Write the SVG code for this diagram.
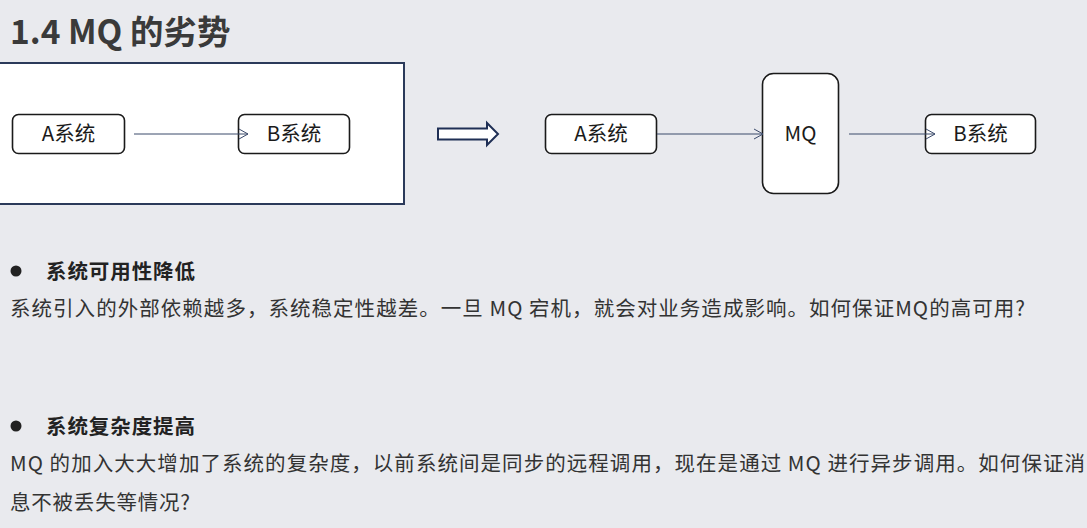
<svg xmlns="http://www.w3.org/2000/svg" width="1087" height="528" viewBox="0 0 1087 528">
<style>
.bg{fill:#e9eaee}
.node{fill:#ffffff;stroke:#1a1a1a;stroke-width:1.6}
.lbl{font-family:"Noto Sans CJK SC","Microsoft YaHei",sans-serif;font-size:20.5px;fill:#1a1a1a;text-anchor:middle}
.conn{stroke:#3b4a6b;stroke-width:1;fill:none;marker-end:url(#arr)}
.body{font-family:"Noto Sans CJK SC","Microsoft YaHei",sans-serif;font-size:20.5px;fill:#333333}
.head{font-family:"Noto Sans CJK SC","Microsoft YaHei",sans-serif;font-size:20.5px;font-weight:bold;fill:#222222}
</style>
<defs>
<marker id="arr" markerWidth="12" markerHeight="12" refX="10" refY="6" orient="auto" markerUnits="userSpaceOnUse">
<path d="M1,1 L10,6 L1,11" fill="none" stroke="#3b4a6b" stroke-width="1"/>
</marker>
</defs>
<rect class="bg" x="0" y="0" width="1087" height="528"/>
<text x="10" y="44" font-family="'Noto Sans CJK SC','Microsoft YaHei',sans-serif" font-size="33.5" font-weight="bold" fill="#3a3a3a">1.4 MQ 的劣势</text>

<g id="frame">
<rect x="-2" y="63" width="406" height="141" fill="#ffffff" stroke="#2b3a5a" stroke-width="2"/>
</g>

<g id="a1">
<rect class="node" x="12.5" y="114.5" width="112" height="39" rx="6"/>
<text class="lbl" x="68.5" y="141">A系统</text>
</g>
<g id="b1">
<rect class="node" x="238.5" y="114.5" width="111" height="39" rx="6"/>
<text class="lbl" x="294" y="141">B系统</text>
</g>

<g id="bigarrow">
<path d="M438,128.5 H487 V123 L498,134 L487,145 V139.5 H438 Z" fill="#ffffff" stroke="#1f2f55" stroke-width="2" stroke-linejoin="miter"/>
</g>

<g id="a2">
<rect class="node" x="545.5" y="114.5" width="111" height="39" rx="6"/>
<text class="lbl" x="601" y="141">A系统</text>
</g>
<g id="mq">
<rect class="node" x="762.5" y="73.5" width="76" height="120" rx="11"/>
<text class="lbl" x="800.5" y="141">MQ</text>
</g>
<g id="b2">
<rect class="node" x="925.5" y="114.5" width="110" height="39" rx="6"/>
<text class="lbl" x="980.5" y="141">B系统</text>
</g>

<g id="connectors">
<line class="conn" x1="134" y1="134" x2="248" y2="134"/>
<line class="conn" x1="657" y1="134" x2="763" y2="134"/>
<line class="conn" x1="849" y1="134" x2="935" y2="134"/>
</g>

<g id="bullet1">
<circle cx="16" cy="271" r="5.5" fill="#222222"/>
<text class="head" x="46" y="279" textLength="149" lengthAdjust="spacing">系统可用性降低</text>
<text class="body" x="10" y="316" textLength="1015" lengthAdjust="spacing">系统引入的外部依赖越多，系统稳定性越差。一旦 MQ 宕机，就会对业务造成影响。如何保证MQ的高可用?</text>
</g>

<g id="bullet2">
<circle cx="16" cy="426" r="5.5" fill="#222222"/>
<text class="head" x="46" y="434" textLength="149" lengthAdjust="spacing">系统复杂度提高</text>
<text class="body" x="10" y="471" textLength="1075" lengthAdjust="spacing">MQ 的加入大大增加了系统的复杂度，以前系统间是同步的远程调用，现在是通过 MQ 进行异步调用。如何保证消</text>
<text class="body" x="10" y="510" textLength="180" lengthAdjust="spacing">息不被丢失等情况?</text>
</g>
</svg>
